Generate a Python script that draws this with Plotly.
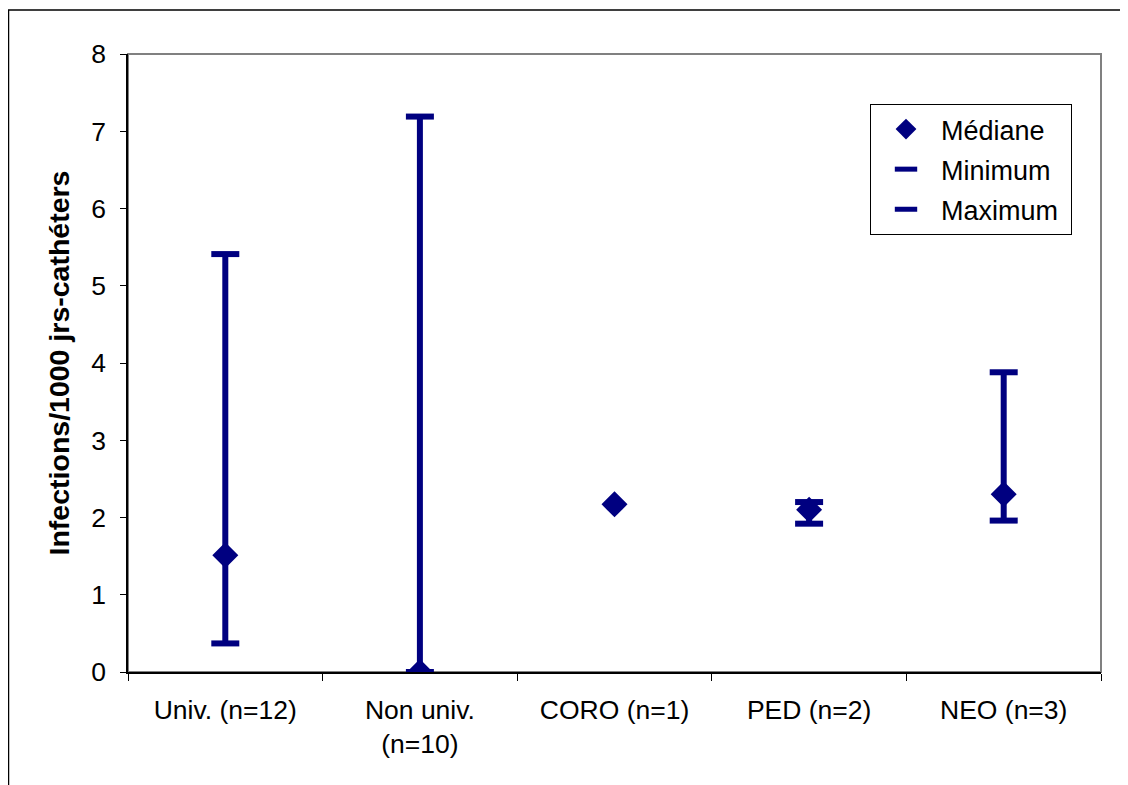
import plotly.graph_objects as go

categories = ["Univ. (n=12)", "Non univ.<br>(n=10)", "CORO (n=1)", "PED (n=2)", "NEO (n=3)"]
median = [1.51, 0.0, 2.17, 2.10, 2.30]
minimum = [0.37, 0.0, None, 1.92, 1.96]
maximum = [5.41, 7.19, None, 2.20, 3.88]
series_names = ["Médiane", "Minimum", "Maximum"]

NAVY = "#000080"
FONT = "Liberation Sans, Arial, sans-serif"
PAD = "\u00a0"

# high-low lines
hx, hy = [], []
for c, lo, hi in zip(categories, minimum, maximum):
    if lo is None or hi is None:
        continue
    hx += [c, c, None]
    hy += [lo, hi, None]

fig = go.Figure()
fig.add_trace(go.Scatter(x=hx, y=hy, mode="lines", line=dict(color=NAVY, width=6),
                         showlegend=False, hoverinfo="skip"))
fig.add_trace(go.Scatter(x=categories, y=minimum, mode="markers", name=series_names[1] + PAD,
                         legendgroup="b", legendrank=2,
                         marker=dict(symbol="line-ew", size=20, color=NAVY,
                                     line=dict(color=NAVY, width=6))))
fig.add_trace(go.Scatter(x=categories, y=maximum, mode="markers", name=series_names[2] + PAD,
                         legendgroup="c", legendrank=3,
                         marker=dict(symbol="line-ew", size=20, color=NAVY,
                                     line=dict(color=NAVY, width=6))))
fig.add_trace(go.Scatter(x=categories, y=median, mode="markers", name=series_names[0] + PAD,
                         legendgroup="a", legendrank=1,
                         marker=dict(symbol="diamond", size=20, color=NAVY)))

OFF = 8  # page body margin
L, R, T, B = 128 - OFF, 1101 - OFF, 54 - OFF, 672 - OFF
W, H = 1128 - OFF, 785 - OFF
pw, ph = R - L, B - T

def px(x):
    return (x - OFF - L) / pw

def py(y):
    return (B - (y - OFF)) / ph

fig.update_layout(
    width=W, height=H,
    margin=dict(l=L, r=W - R, t=T, b=H - B),
    paper_bgcolor="white", plot_bgcolor="white",
    font=dict(family=FONT, size=26, color="black"),
    showlegend=True,
    legend=dict(x=px(870), y=py(104), xanchor="left", yanchor="top",
                bordercolor="black", borderwidth=1, bgcolor="white",
                font=dict(size=27), traceorder="grouped", tracegroupgap=2,
                itemwidth=60),
    shapes=[
        dict(type="rect", xref="paper", yref="paper", x0=0, x1=1, y0=0, y1=1,
             line=dict(color="#808080", width=2), layer="below"),
        dict(type="rect", xref="paper", yref="paper", x0=px(8.5), x1=px(1140),
             y0=py(800), y1=py(10), line=dict(color="black", width=1.5), layer="below"),
    ],
)
fig.update_xaxes(type="category", categoryorder="array", categoryarray=categories,
                 range=[-0.5, 4.5], tickson="boundaries", ticks="outside", ticklen=7,
                 tickcolor="black", showline=True, linecolor="black", linewidth=1.5,
                 showgrid=False, zeroline=False, tickfont=dict(size=26.5),
                 ticklabelstandoff=13)
fig.update_yaxes(range=[0, 8], dtick=1, ticks="outside", ticklen=6, tickcolor="black",
                 showline=True, linecolor="black", linewidth=1.5, showgrid=False,
                 zeroline=False, tickfont=dict(size=26.5), ticklabelstandoff=9,
                 title=dict(text="<b>Infections/1000 jrs-cathéters</b>", font=dict(size=28.5),
                            standoff=13))

fig.write_html("out.html")
